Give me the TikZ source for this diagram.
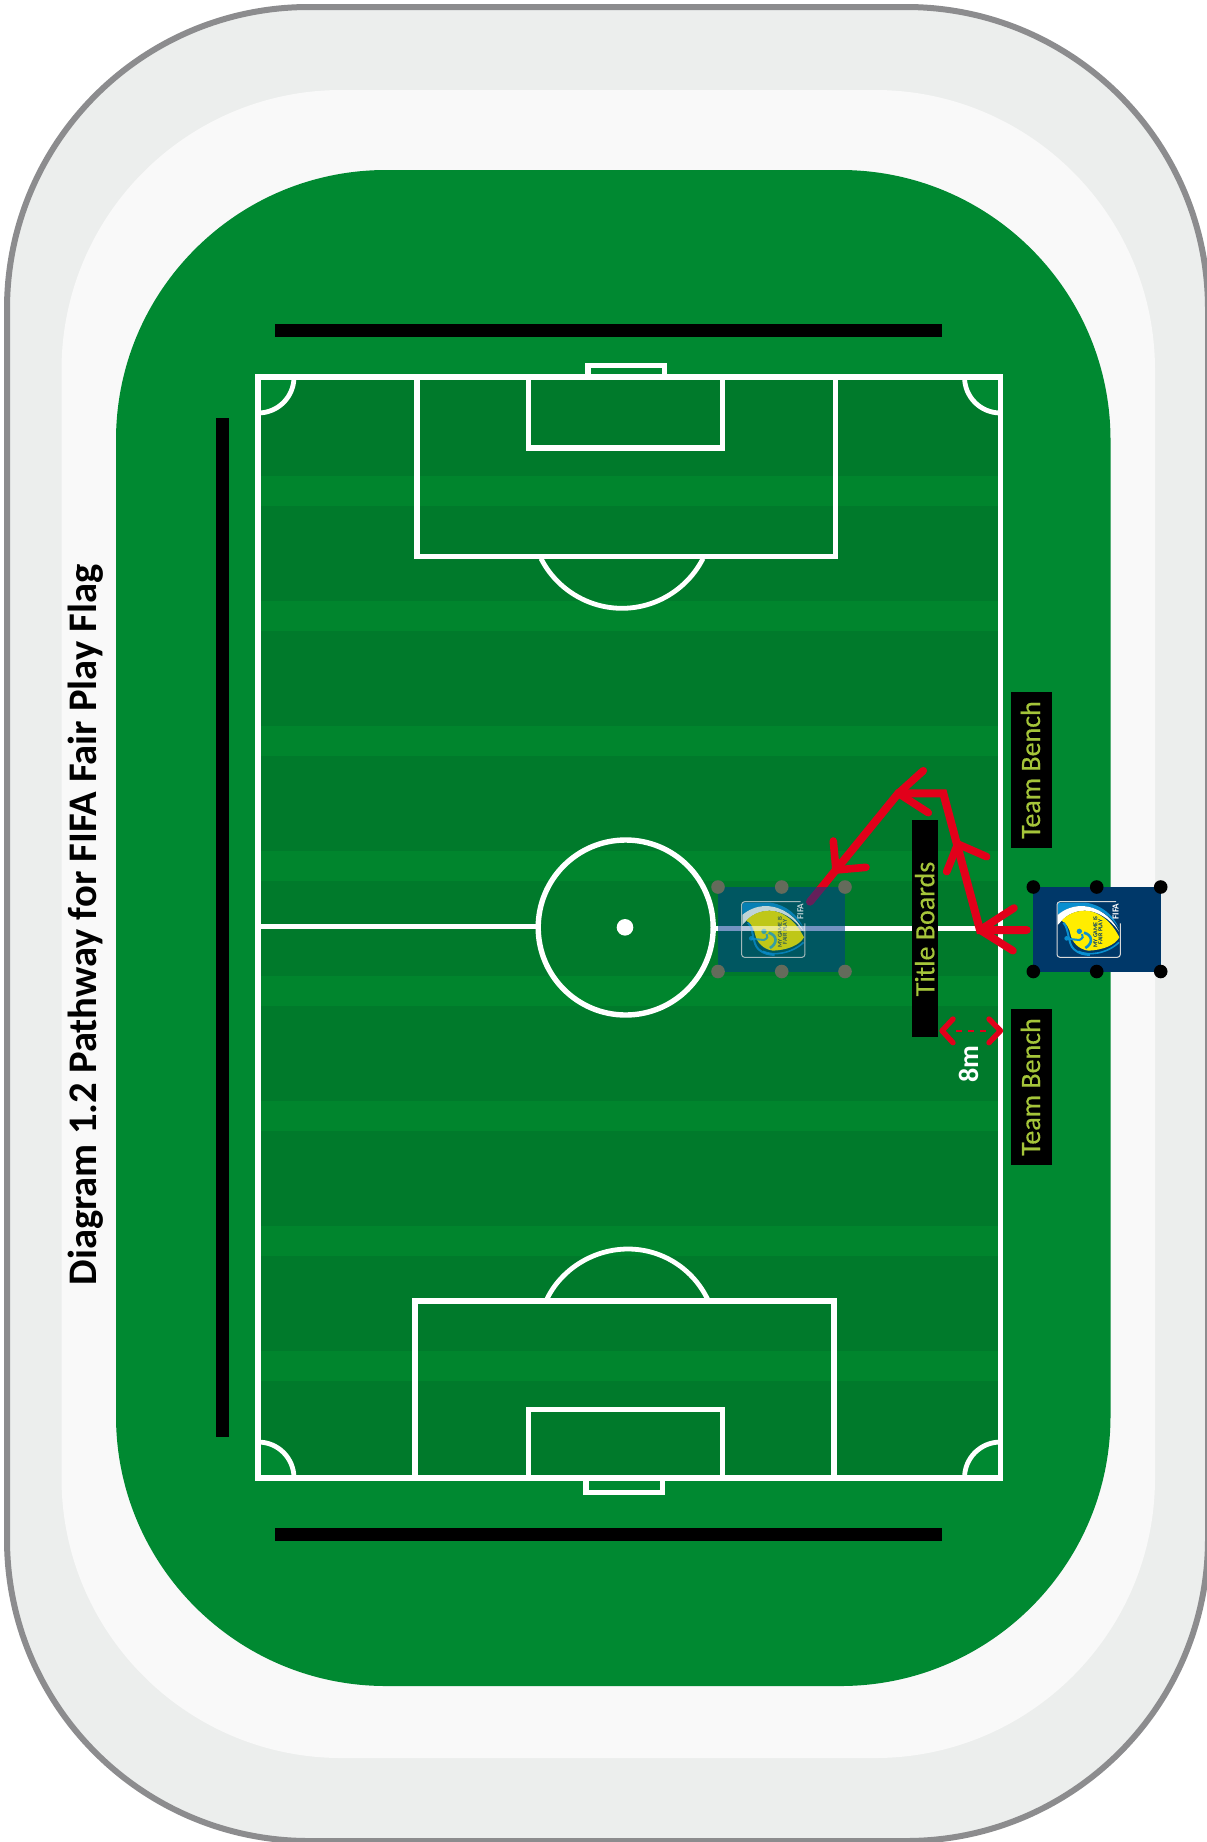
\documentclass[tikz,border=0pt]{standalone}
\usepackage{fontspec}
\setmainfont{Carlito}
\newfontfamily\medfont[FakeBold=0.4]{Carlito}
\definecolor{gborder}{RGB}{140,140,142}
\definecolor{gouter}{RGB}{236,238,237}
\definecolor{ginner}{RGB}{249,249,249}
\definecolor{fieldg}{RGB}{0,137,49}
\definecolor{stripeL}{RGB}{0,133,45}
\definecolor{stripeD}{RGB}{0,122,43}
\definecolor{navy}{RGB}{0,56,105}
\definecolor{ghostc}{RGB}{0,60,143}
\definecolor{ghostdot}{RGB}{100,107,91}
\definecolor{redp}{RGB}{226,0,26}
\definecolor{lime}{RGB}{165,197,58}
\definecolor{logoblue}{RGB}{10,143,208}
\definecolor{logoyel}{RGB}{255,237,0}
\tikzset{
  pitchline/.style={draw=white,line width=2.7pt,line join=miter},
  arcline/.style={draw=white,line width=2.4pt},
  blackbar/.style={fill=black,draw=none},
  redpath/.style={draw=redp,line width=4pt,line join=miter,line cap=round},
  redarm/.style={draw=redp,line width=3.8pt,line cap=round,line join=round},
  redthin/.style={draw=redp,line width=2.7pt,line cap=round,line join=round},
  handle/.style={circle,fill=black,minimum size=6.8pt,inner sep=0pt},
  ghosthandle/.style={circle,fill=ghostdot,minimum size=6.8pt,inner sep=0pt},
  benchlabel/.style={text=lime,font=\medfont\fontsize{14}{14}\selectfont,rotate=90,anchor=base,inner sep=0pt},
  logotext/.style={font=\fontsize{3}{3}\selectfont\bfseries,text=navy,rotate=90,anchor=base,inner sep=0pt},
}
\newcommand{\fairlogo}[3]{%
 \begin{scope}[shift={(#1,860)},x=.16667pt,y=-.16667pt,opacity=#2]
  \fill[logoblue] (143,128) -- (228,128) .. controls (275,135) and (310,165) .. (327,205) .. controls (305,170) and (265,140) .. (215,138) .. controls (185,138) and (160,150) .. (143,165) -- cycle;
  \fill[white] (143,165) .. controls (160,150) and (185,138) .. (215,138) .. controls (265,140) and (305,170) .. (327,215) .. controls (300,175) and (260,152) .. (225,152) .. controls (195,152) and (170,165) .. (155,182) -- (143,195) -- cycle;
  \fill[logoyel] (155,182) .. controls (170,165) and (195,152) .. (225,152) .. controls (265,152) and (305,185) .. (328,232) .. controls (315,255) and (280,270) .. (235,272) .. controls (205,268) and (186,245) .. (182,225) .. controls (178,205) and (170,190) .. (155,182) -- cycle;
  \fill[logoblue] (208,214) circle[radius=8];
  \fill[logoblue] (170,235) circle[radius=7];
  \draw[logoblue,line width=1.3pt] (222,218) .. controls (248,225) and (250,250) .. (226,264);
  \draw[logoblue,line width=1pt] (170,236) -- (208,240) .. controls (218,236) and (222,228) .. (216,222);
  \draw[logoblue,line width=1pt] (160,188) .. controls (178,205) and (172,250) .. (192,268) .. controls (207,282) and (225,284) .. (240,285);
  \draw[logoblue,line width=.8pt] (205,274) .. controls (235,288) and (290,282) .. (327,247);
  \draw[gray!30!white,line width=.5pt,rounded corners=1.5pt] (318,125) -- (141,125) -- (141,292) -- (331,292) -- (331,190);
  \node[logotext] (#3myg) at (262,216) {MY GAME IS};
  \node[logotext] (#3fpl) at (277,216) {FAIR PLAY};
  \node[font=\fontsize{4.6}{4.6}\selectfont\bfseries,text=white,rotate=90,anchor=base,inner sep=0pt] (#3fifa) at (326,155) {FIFA};
 \end{scope}}
\begin{document}
\begin{tikzpicture}[x=.5pt,y=-.5pt]
\useasboundingbox (0,0) rectangle (1206,1842);
% stadium surrounds
\filldraw[fill=gouter,draw=gborder,line width=3pt,rounded corners=151pt] (7,7) rectangle (1208,1841);
\fill[ginner,rounded corners=140pt] (61.5,90) rectangle (1155,1758);
\fill[fieldg,rounded corners=135pt] (116,170) rectangle (1110.5,1686);
% pitch and stripes
\fill[stripeD] (258,377) rectangle (1000.5,1478);
\foreach \yy in {476,601,726,851,976,1101,1226,1351}
  \fill[stripeL] (258,\yy) rectangle (1000.5,\yy+29.5);
% corner quadrants
\fill[fieldg] (258,377) -- (294,377) .. controls (294,397) and (278,413) .. (258,413) -- cycle;
\fill[fieldg] (1000.5,377) -- (964.5,377) .. controls (964.5,397) and (980.5,413) .. (1000.5,413) -- cycle;
\fill[fieldg] (258,1478) -- (294,1478) .. controls (294,1458) and (278,1442) .. (258,1442) -- cycle;
\fill[fieldg] (1000.5,1478) -- (964.5,1478) .. controls (964.5,1458) and (980.5,1442) .. (1000.5,1442) -- cycle;
\draw[arcline] (294,377) .. controls (294,397) and (278,413) .. (258,413);
\draw[arcline] (964.5,377) .. controls (964.5,397) and (980.5,413) .. (1000.5,413);
\draw[arcline] (294,1478) .. controls (294,1458) and (278,1442) .. (258,1442);
\draw[arcline] (964.5,1478) .. controls (964.5,1458) and (980.5,1442) .. (1000.5,1442);
% halfway line
\draw[pitchline] (258,926.3) -- (538.5,926.3);
\draw[pitchline] (713.5,928.3) -- (980,928.3);
% lines
\draw[pitchline] (258,377) rectangle (1000.5,1478);
\draw[pitchline] (417,377) rectangle (835.5,556.7);
\draw[pitchline] (528.5,377) rectangle (722.5,448);
\draw[pitchline] (588,377) rectangle (664.5,365.3);
\draw[pitchline] (415,1301) rectangle (834,1478);
\draw[pitchline] (528.5,1409.7) rectangle (722.5,1478);
\draw[pitchline] (586,1478) rectangle (662.5,1492.4);
\draw[arcline] (541,558.5) .. controls (556.3,588.7) and (587.7,608.3) .. (622,608.3) .. controls (656.3,608.3) and (687.7,588.7) .. (703,558.5);
\draw[arcline] (546.7,1299.5) .. controls (561,1269.4) and (593.3,1249) .. (628,1249) .. controls (662.7,1249) and (693.4,1269.4) .. (707.7,1299.5);
\draw[pitchline] (625.7,927.5) circle[radius=87.5];
\fill[white] (625,927.3) circle[radius=8.3];
% black barriers
\fill[blackbar] (275,324) rectangle (941.5,337);
\fill[blackbar] (275,1528) rectangle (941.5,1541);
\fill[blackbar] (216,417.7) rectangle (229,1436.7);
% boards
\node[fill=black,minimum width=20.5pt,minimum height=78pt,inner sep=0pt,anchor=north west] (benchA) at (1011,691.7) {};
\node[fill=black,minimum width=20.5pt,minimum height=78pt,inner sep=0pt,anchor=north west] (benchB) at (1011,1009) {};
\node[fill=black,minimum width=13pt,minimum height=108.3pt,inner sep=0pt,anchor=north west] (boards) at (912,820) {};
\node[benchlabel] (benchAt) at (1040,770) {Team Bench};
\node[benchlabel] (benchBt) at (1040,1087) {Team Bench};
\node[benchlabel] (boardst) at (934.3,929) {Title Boards};
\node[font=\fontsize{14}{14}\selectfont\bfseries,text=white,rotate=90,anchor=base,inner sep=0pt] (eightm) at (978,1064) {8m};
\node[font=\fontsize{20.3}{20.3}\selectfont\bfseries,text=black,rotate=90,anchor=base,inner sep=0pt] (title) at (96,925) {Diagram 1.2 Pathway for FIFA Fair Play Flag};
% 8m dimension
\coordinate (dl) at (942,1030.7);
\coordinate (dr) at (1000.5,1030.7);
\coordinate (dls) at (956,1030.7);
\coordinate (drs) at (986,1030.7);
\draw[draw=redp,line width=1.2pt,dash pattern=on 3pt off 3pt] (dls) -- (drs);
\draw[redthin] (953,1019) -- (dl) -- (953,1042.7);
\draw[redthin] (989,1019) -- (dr) -- (989,1042.7);
% pathway
\coordinate (p0) at (1026.7,930);
\coordinate (p1) at (980,930);
\coordinate (p2) at (943.3,793.3);
\coordinate (p3) at (898.3,793.3);
\coordinate (p4) at (810,901.7);
\coordinate (h2) at (957.7,844);
\coordinate (h4) at (836,870);
\draw[redpath] (p0) -- (p1) -- (p2) -- (p3) -- (p4);
\draw[redarm] (1014,908) -- (p1) -- (1013,950.7);
\draw[redarm] (986.7,856.7) -- (h2) -- (946.7,871.7);
\draw[redarm] (923.3,770.7) -- (p3) -- (928.3,812.7);
\draw[redarm] (833.3,841) -- (h4) -- (866,867.3);
% ghost flag
\fill[ghostc,opacity=.55] (718,887) rectangle (845,971.7);
\fairlogo{694.6}{.75}{g}
\fill[white,opacity=.45] (741.5,926) rectangle (805,930.6);
\foreach \xx/\nn in {718/a,781.7/b,845/c}{
  \node[ghosthandle] (gt\nn) at (\xx,887) {};
  \node[ghosthandle] (gb\nn) at (\xx,971.5) {};
}
% real flag
\fill[navy] (1033.3,887) rectangle (1161,971.7);
\fairlogo{1010}{1}{r}
\foreach \xx/\nn in {1033.3/a,1096.7/b,1160.7/c}{
  \node[handle] (rt\nn) at (\xx,887) {};
  \node[handle] (rb\nn) at (\xx,971.5) {};
}
\end{tikzpicture}
\end{document}
